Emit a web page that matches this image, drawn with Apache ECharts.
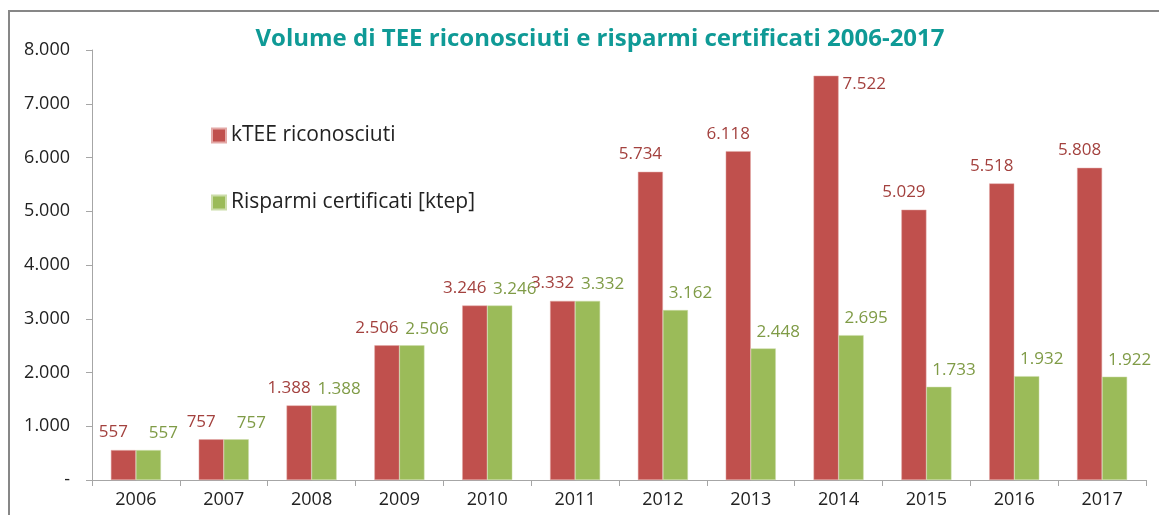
<!DOCTYPE html>
<html>
<head>
<meta charset="utf-8">
<script src="https://cdn.jsdelivr.net/npm/echarts@6/dist/echarts.min.js"></script>
<style>
	html, body { margin: 0; padding: 0; background: #fff; }
	#chart { width: 1159px; height: 515px; }
</style>
</head>
<body>
<div id="chart"></div>
<script>
// data
const years = ['2006', '2007', '2008', '2009', '2010', '2011', '2012', '2013', '2014', '2015', '2016', '2017'];
const teeRiconosciuti = [557, 757, 1388, 2506, 3246, 3332, 5734, 6118, 7522, 5029, 5518, 5808];
const risparmiCertificati = [557, 757, 1388, 2506, 3246, 3332, 3162, 2448, 2695, 1733, 1932, 1922];
const seriesNames = ['kTEE riconosciuti', 'Risparmi certificati [ktep]'];
const titleText = 'Volume di TEE riconosciuti e risparmi certificati 2006-2017';

const font = '"Open Sans", Lato, sans-serif';
const yMax = 8000;

// Italian thousands separator, "-" for zero
function fmt(v) {
	if (v === 0) return '-';
	return String(v).replace(/\B(?=(\d{3})+(?!\d))/g, '.');
}

// labels that would hit the top of the plot go beside the bar, like Excel does
const redData = teeRiconosciuti.map(v => v > yMax * 0.93
	? { value: v, label: { position: ['100%', 0], offset: [4, 0] } }
	: v);

const chart = echarts.init(document.getElementById('chart'), null, { renderer: 'canvas' });

chart.setOption({
	animation: false,
	textStyle: { fontFamily: font },
	graphic: [{
		type: 'rect',
		shape: { x: 9, y: 11, width: 1300, height: 700 },
		style: { fill: 'none', stroke: '#878787', lineWidth: 2 },
		silent: true
	}],
	title: {
		text: titleText,
		left: 595,
		top: 22,
		textAlign: 'center',
		textStyle: { color: '#0F9A96', fontSize: 24, fontWeight: 'bold', fontFamily: font }
	},
	legend: {
		orient: 'vertical',
		left: 206,
		top: 120,
		itemWidth: 14,
		itemHeight: 14,
		itemGap: 46,
		icon: 'rect',
		textStyle: { fontSize: 21, color: '#222', fontFamily: font }
	},
	grid: { left: 92, right: 13, top: 50, bottom: 35 },
	xAxis: {
		type: 'category',
		data: years,
		axisLine: { lineStyle: { color: '#A6A6A6' } },
		axisTick: { show: true, length: 6, alignWithLabel: false, lineStyle: { color: '#A6A6A6' } },
		axisLabel: { color: '#222', fontSize: 18, margin: 11, fontFamily: font }
	},
	yAxis: {
		type: 'value',
		min: 0,
		max: yMax,
		interval: 1000,
		splitLine: { show: false },
		axisLine: { show: true, lineStyle: { color: '#A6A6A6' } },
		axisTick: { show: true, length: 6, lineStyle: { color: '#A6A6A6' } },
		axisLabel: { color: '#222', fontSize: 18, margin: 22, fontFamily: font, formatter: fmt }
	},
	series: [
		{
			name: seriesNames[0],
			type: 'bar',
			data: redData,
			barGap: '0%',
			barCategoryGap: '43%',
			itemStyle: { color: '#C0504D', borderColor: '#E3A9A7', borderWidth: 0.5 },
			label: {
				show: true,
				position: 'top',
				offset: [-10, -4],
				color: '#A3413E',
				fontSize: 17,
				fontFamily: font,
				formatter: p => fmt(p.value)
			}
		},
		{
			name: seriesNames[1],
			type: 'bar',
			data: risparmiCertificati,
			itemStyle: { color: '#9BBB59', borderColor: '#CCDDAA', borderWidth: 0.5 },
			label: {
				show: true,
				position: 'top',
				offset: [15, -3],
				color: '#7F9B46',
				fontSize: 17,
				fontFamily: font,
				formatter: p => fmt(p.value)
			}
		}
	]
});
</script>
</body>
</html>
